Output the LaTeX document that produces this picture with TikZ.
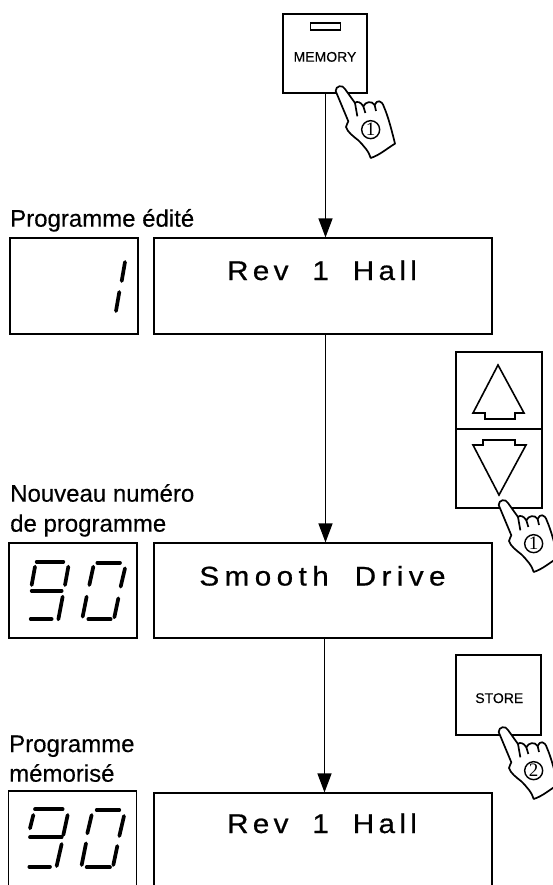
\documentclass[tikz,border=0pt]{standalone}
\usepackage{fontspec}
\setmainfont[FakeBold=0.25]{Liberation Sans}
\newfontfamily\spacedfont[LetterSpace=20,FakeStretch=1.1,FakeBold=0.7,WordSpace=1.9]{Liberation Sans}
\newfontfamily\spacedfontB[LetterSpace=16,FakeStretch=1.1,FakeBold=0.7,WordSpace=1.9]{Liberation Sans}
\newfontfamily\circfont{Liberation Serif}
\usetikzlibrary{arrows.meta}
\tikzset{
  x=1pt,y=-1pt,
  box/.style={draw=black,line width=1.1pt,inner sep=0pt,fill=none},
  mainbox/.style={box,minimum width=338pt},
  lcdbox/.style={box,minimum width=128pt},
  keybox/.style={draw=black,line width=1.6pt,inner sep=0pt},
  title/.style={font=\fontsize{24}{26}\selectfont,anchor=base west,inner sep=0pt},
  disp/.style={font=\spacedfont\fontsize{27}{30}\selectfont,anchor=base,inner sep=0pt},
  dispB/.style={font=\spacedfontB\fontsize{27}{30}\selectfont,anchor=base,inner sep=0pt},
  keylabel/.style={font=\fontsize{14}{16}\selectfont,anchor=base,inner sep=0pt},
  flow/.style={draw=black,line width=1.2pt,-{Triangle[length=19pt,width=14pt]}},
  seg/.style={line width=3.7pt,line cap=round,black},
  arrowshape/.style={draw=black,line width=1.6pt,line join=miter},
  pics/hand/.style={code={
    \begin{scope}[scale=1/3,line width=1.7pt,line join=round]
      \filldraw[fill=white,draw=black]
        (-13,12) .. controls (-13,-4) and (8,-8) .. (15,6)
        -- (45,48) .. controls (50,42) and (62,44) .. (70,58)
        .. controls (76,44) and (95,40) .. (104,54)
        .. controls (110,38) and (125,38) .. (132,60)
        .. controls (145,90) and (155,130) .. (165,170)
        .. controls (140,185) and (118,205) .. (92,213)
        .. controls (88,195) and (70,175) .. (55,160)
        .. controls (40,148) and (22,135) .. (18,120)
        .. controls (20,112) and (23,108) .. (25,103) -- cycle;
      \draw (45,48) -- (52,88);
      \draw (70,58) -- (76,78);
      \draw (104,54) -- (108,72);
      \node[draw=black,circle,fill=white,line width=1.4pt,minimum size=18pt,inner sep=0pt,font=\circfont\fontsize{19}{20}\selectfont] (n) at (92,128) {#1};
    \end{scope}
  }}
}
\begin{document}
\begin{tikzpicture}
\useasboundingbox (0,0) rectangle (553,885);
\clip (0,0) rectangle (553,885);

% display boxes
\node[lcdbox,minimum height=96pt] (lcdA) at (74,286) {};
\node[mainbox,minimum height=96pt] (mainA) at (323,286) {};
\node[lcdbox,minimum height=95pt] (lcdB) at (73,590.5) {};
\node[mainbox,minimum height=95pt] (mainB) at (323,590.5) {};
\node[lcdbox,minimum height=120pt] (lcdC) at (72.5,851) {};
\node[mainbox,minimum height=120pt] (mainC) at (323,853) {};

% display text
\node[dispB] (txtA) at (322,280) {Rev 1 Hall};
\node[disp] (txtB) at (322.5,585.5) {Smooth Drive};
\node[dispB] (txtC) at (322,833) {Rev 1 Hall};

% titles
\node[title] (t1) at (10,226.7) {Programme édité};
\node[title] (t2) at (10,501.7) {Nouveau numéro};
\node[title] (t3) at (10,531.7) {de programme};
\node[title] (t4) at (9,752) {Programme};
\node[title] (t5) at (9,781.7) {mémorisé};

% keys
\node[keybox,minimum width=84pt,minimum height=79pt] (memory) at (325,53.5) {};
\node[draw=black,line width=1.5pt,minimum width=30pt,minimum height=7pt,inner sep=0pt] (memslot) at (325.7,26.3) {};
\node[keylabel] (memtxt) at (325,61.7) {MEMORY};
\node[keybox,minimum width=86pt,minimum height=77pt] (upkey) at (499,390.5) {};
\node[keybox,minimum width=86pt,minimum height=79pt] (downkey) at (499,468.5) {};
\filldraw[arrowshape,fill=white] (498,365) -- (524,413) -- (515,413) -- (515,419) -- (485,419) -- (485,413) -- (473,413) -- cycle;
\filldraw[arrowshape,fill=white] (499,495) -- (473,445) -- (483,445) -- (483,440) -- (515,440) -- (515,445) -- (526,445) -- cycle;
\node[keybox,minimum width=85pt,minimum height=80pt] (store) at (498.5,695) {};
\node[keylabel] (storetxt) at (499.3,703) {STORE};

% connectors
\draw[flow] ([xshift=2.5pt]mainA.north |- memory.south) -- ([xshift=2.5pt]mainA.north);
\draw[flow] ([xshift=2.5pt]mainA.south) -- ([xshift=2.5pt]mainB.north);
\draw[flow] ([xshift=1.5pt]mainB.south) -- ([xshift=1.5pt]mainC.north);

% hands
\pic[name=h1] at (340,87) {hand=1};
\pic[name=h2] at (503,501) {hand=1};
\pic[name=h3] at (503,728) {hand=2};

% segments, display A
\begin{scope}[x=1pt,y=-1pt]
\draw[seg] (125,262) -- (121.7,281);
\draw[seg] (119.3,292) -- (116,311);
% display B (zoom px /3)
\begin{scope}[shift={(0,530)},scale=1/3]
\draw[seg] (110,95)--(190,95);
\draw[seg] (105,110)--(95,165);
\draw[seg] (205,110)--(195,165);
\draw[seg] (95,182)--(185,182);
\draw[seg] (188,200)--(175,268);
\draw[seg] (92,267)--(155,267);
\draw[seg] (292,98)--(360,98);
\draw[seg] (280,110)--(268,165);
\draw[seg] (375,115)--(362,170);
\draw[seg] (260,200)--(248,260);
\draw[seg] (355,205)--(343,262);
\draw[seg] (265,268)--(332,268);
\end{scope}
% display C
\begin{scope}[shift={(0,760)},scale=1/3]
\draw[seg] (105,148)--(188,148);
\draw[seg] (100,165)--(90,205);
\draw[seg] (203,165)--(190,225);
\draw[seg] (90,232)--(185,232);
\draw[seg] (185,252)--(170,318);
\draw[seg] (88,320)--(150,320);
\draw[seg] (290,150)--(358,150);
\draw[seg] (275,165)--(262,220);
\draw[seg] (372,168)--(358,228);
\draw[seg] (258,250)--(245,315);
\draw[seg] (352,258)--(340,315);
\draw[seg] (260,322)--(330,322);
\end{scope}
\end{scope}
\end{tikzpicture}
\end{document}
